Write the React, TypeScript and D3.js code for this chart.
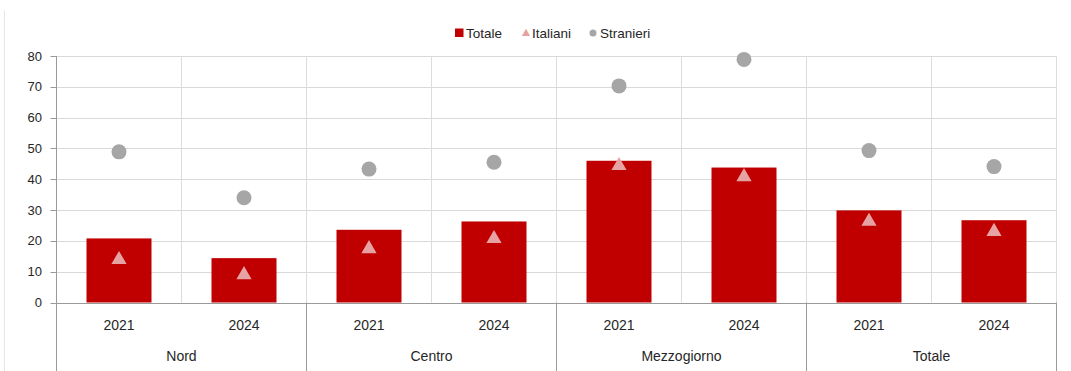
import React from "react";
import * as d3 from "d3";

const groups = ["Nord", "Centro", "Mezzogiorno", "Totale"];
const years = ["2021", "2024"];
const totale = [20.8, 14.4, 23.6, 26.3, 46.0, 43.8, 29.9, 26.7];
const italiani = [13.9, 9.0, 17.4, 20.7, 44.4, 40.8, 26.3, 23.0];
const stranieri = [48.9, 34.0, 43.3, 45.5, 70.3, 78.9, 49.3, 44.1];
const yTicks = [0, 10, 20, 30, 40, 50, 60, 70, 80];

const W = 1071;
const H = 371;
const left = 56.5;
const right = 1056.5;
const top = 56;
const bottom = 302.5;

export default function App() {
  const cats = groups.flatMap((g) => years.map((y) => `${g}|${y}`));
  const x = d3.scaleBand<string>().domain(cats).range([left, right]).paddingInner(0).paddingOuter(0);
  const xg = d3.scaleBand<string>().domain(groups).range([left, right]);
  const y = d3.scaleLinear().domain([0, 80]).range([bottom, top]);
  const barW = 65;
  const tri = d3.symbol().type(d3.symbolTriangle).size(100)() as string;
  const font = "'Liberation Sans', Arial, sans-serif";

  return (
    <svg width={W} height={H} style={{ position: "absolute", left: 0, top: 0, background: "#fff" }} fontFamily={font}>
      <line x1={4.5} x2={4.5} y1={10} y2={H} stroke="#e6e6e6" />
      {yTicks.filter((t) => t > 0).map((t) => (
        <line key={t} x1={left} x2={right} y1={Math.round(y(t)) + 0.5} y2={Math.round(y(t)) + 0.5} stroke="#d9d9d9" />
      ))}
      {cats.map((c, i) =>
        i > 0 && i % 2 === 1 ? (
          <line key={c} x1={x(c)!} x2={x(c)!} y1={top} y2={bottom} stroke="#dcdcdc" />
        ) : null
      )}
      {groups.map((g) => (
        <line key={g} x1={xg(g)! + xg.bandwidth()} x2={xg(g)! + xg.bandwidth()} y1={top} y2={bottom} stroke="#dcdcdc" />
      ))}
      {cats.map((c, i) => (
        <rect key={c} x={x(c)! + (x.bandwidth() - barW) / 2} y={y(totale[i])} width={barW} height={y(0) - y(totale[i])} fill="#C00000" />
      ))}
      {cats.map((c, i) => (
        <path key={c} d={tri} transform={`translate(${x(c)! + x.bandwidth() / 2},${y(italiani[i])})`} fill="#E7A3A3" />
      ))}
      {cats.map((c, i) => (
        <circle key={c} cx={x(c)! + x.bandwidth() / 2} cy={y(stranieri[i])} r={7.5} fill="#A6A6A6" />
      ))}
      <line x1={left} x2={left} y1={top} y2={H} stroke="#9a9a9a" />
      {yTicks.map((t) => (
        <g key={t}>
          <line x1={left - 6} x2={left} y1={Math.round(y(t)) + 0.5} y2={Math.round(y(t)) + 0.5} stroke="#9a9a9a" />
          <text x={42} y={y(t)} dy="0.35em" textAnchor="end" fontSize={13} fill="#262626">{t}</text>
        </g>
      ))}
      <line x1={left} x2={right} y1={Math.round(bottom) + 0.5} y2={Math.round(bottom) + 0.5} stroke="#9a9a9a" />
      {groups.map((g) => (
        <line key={g} x1={xg(g)! + xg.bandwidth()} x2={xg(g)! + xg.bandwidth()} y1={bottom} y2={H} stroke="#9a9a9a" />
      ))}
      {cats.map((c) => (
        <text key={c} x={x(c)! + x.bandwidth() / 2} y={325} dy="0.35em" textAnchor="middle" fontSize={14} fill="#262626">{c.split("|")[1]}</text>
      ))}
      {groups.map((g) => (
        <text key={g} x={xg(g)! + xg.bandwidth() / 2} y={356} dy="0.35em" textAnchor="middle" fontSize={14} fill="#262626">{g}</text>
      ))}
      <g fontSize={13.5} fill="#262626">
        <rect x={455} y={28.5} width={8.5} height={8.5} fill="#C00000" />
        <text x={466} y={33} dy="0.35em">Totale</text>
        <path d={d3.symbol().type(d3.symbolTriangle).size(30)() as string} transform="translate(526,33.5)" fill="#E7A3A3" />
        <text x={532} y={33} dy="0.35em">Italiani</text>
        <circle cx={593} cy={33} r={3.5} fill="#A6A6A6" />
        <text x={600} y={33} dy="0.35em">Stranieri</text>
      </g>
    </svg>
  );
}
